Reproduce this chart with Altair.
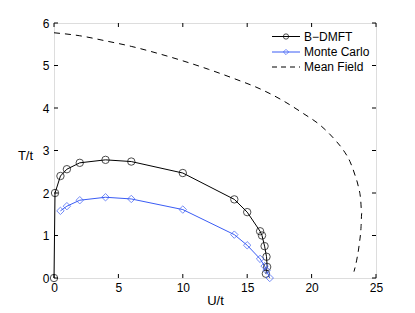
import altair as alt
import pandas as pd

# B-DMFT
bd_u = [0.0, 0.08, 0.5, 1.0, 2.0, 4.0, 6.0, 10.0, 14.0, 15.0, 16.0, 16.15, 16.35, 16.5, 16.55, 16.45]
bd_t = [0.0, 2.0, 2.4, 2.56, 2.71, 2.78, 2.74, 2.47, 1.85, 1.55, 1.1, 1.0, 0.75, 0.5, 0.26, 0.1]
# Monte Carlo
mc_u = [0.5, 1.0, 2.0, 4.0, 6.0, 10.0, 14.0, 15.0, 16.0, 16.35, 16.5, 16.75]
mc_t = [1.58, 1.69, 1.83, 1.9, 1.86, 1.61, 1.02, 0.77, 0.45, 0.28, 0.18, 0.0]
# Mean field
mf_u = [0.0, 2.0, 4.0, 6.0, 8.0, 10.0, 12.0, 14.0, 16.0, 17.68, 19.36, 20.65, 21.82, 22.46,
        22.98, 23.37, 23.63, 23.81, 23.89, 23.84, 23.71, 23.5, 23.29]
mf_t = [5.77, 5.7, 5.58, 5.45, 5.29, 5.11, 4.91, 4.69, 4.45, 4.19, 3.87, 3.6, 3.25, 3.01,
        2.74, 2.42, 2.15, 1.84, 1.52, 1.21, 0.82, 0.42, 0.15]

x_ticks = [0, 5, 10, 15, 20, 25]
y_ticks = [0, 1, 2, 3, 4, 5, 6]

legend_labels = ["B\u2212DMFT", "Monte Carlo", "Mean Field"]
blue = "#3a5cf5"

W, H = 322, 255
FONT = "Liberation Sans"

bd = pd.DataFrame({"U": bd_u, "T": bd_t, "o": range(len(bd_u))})
mc = pd.DataFrame({"U": mc_u, "T": mc_t, "o": range(len(mc_u))})
mf = pd.DataFrame({"U": mf_u, "T": mf_t, "o": range(len(mf_u))})

xs = alt.Scale(domain=[0, 25], nice=False, zero=False)
ys = alt.Scale(domain=[0, 6], nice=False, zero=False)

xax = alt.Axis(values=x_ticks, ticks=False, grid=False, domain=False, labelPadding=4,
               labelFontSize=12, labelFont=FONT, labelColor="black", title="U/t",
               titleFont=FONT, titleFontSize=13, titleFontWeight="normal", titlePadding=1,
               titleColor="black", labelFlush=False)
yax = alt.Axis(values=y_ticks, ticks=False, grid=False, domain=False, labelPadding=5,
               labelFontSize=12, labelFont=FONT, labelColor="black", title="T/t",
               titleFont=FONT, titleFontSize=13, titleFontWeight="normal", titleAngle=0,
               titleAlign="center", titleBaseline="middle", titleX=-29, titleY=132,
               titleColor="black", labelFlush=False)

def X(**kw):
    return alt.X("U:Q", scale=xs, **kw)

def Y(**kw):
    return alt.Y("T:Q", scale=ys, **kw)

mf_line = alt.Chart(mf).mark_line(color="black", strokeWidth=1, strokeDash=[6, 5],
                                  interpolate="monotone").encode(
    x=X(axis=xax), y=Y(axis=yax), order="o:Q")

bd_line = alt.Chart(bd).mark_line(color="black", strokeWidth=1).encode(
    x=X(), y=Y(), order="o:Q")
bd_pts = alt.Chart(bd).mark_point(shape="circle", color="black", filled=False, size=55, strokeWidth=1).encode(
    x=X(), y=Y())

mc_line = alt.Chart(mc).mark_line(color=blue, strokeWidth=1).encode(
    x=X(), y=Y(), order="o:Q")
mc_pts = alt.Chart(mc).mark_point(shape="diamond", color=blue, filled=False, size=55, strokeWidth=1).encode(
    x=X(), y=Y())

# inward ticks on all four sides
xt = pd.DataFrame({"v": x_ticks})
yt = pd.DataFrame({"v": y_ticks})
tick_len = 4
xt_b = alt.Chart(xt).mark_rule(color="black", strokeWidth=1).encode(
    x=alt.X("v:Q", scale=xs), y=alt.value(H), y2=alt.value(H - tick_len))
xt_t = alt.Chart(xt).mark_rule(color="black", strokeWidth=1).encode(
    x=alt.X("v:Q", scale=xs), y=alt.value(0), y2=alt.value(tick_len))
yt_l = alt.Chart(yt).mark_rule(color="black", strokeWidth=1).encode(
    y=alt.Y("v:Q", scale=ys), x=alt.value(0), x2=alt.value(tick_len))
yt_r = alt.Chart(yt).mark_rule(color="black", strokeWidth=1).encode(
    y=alt.Y("v:Q", scale=ys), x=alt.value(W), x2=alt.value(W - tick_len))

# legend (decoration)
leg_layers = []
leg_y = [13.5, 29, 44]
lx0, lx1, ltx = 218, 246, 250
styles = [("black", "circle", None), (blue, "diamond", None), ("black", None, [6, 5])]
for lab, yy, (col, shp, dash) in zip(legend_labels, leg_y, styles):
    rk = dict(color=col, strokeWidth=1)
    if dash:
        rk["strokeDash"] = [5, 4]
    leg_layers.append(alt.Chart(pd.DataFrame({"a": [0]})).mark_rule(**rk).encode(
        x=alt.value(lx0), x2=alt.value(lx1), y=alt.value(yy)))
    if shp:
        leg_layers.append(alt.Chart(pd.DataFrame({"a": [0]})).mark_point(
            shape=shp, color=col, filled=False, size=28, strokeWidth=1).encode(
            x=alt.value((lx0 + lx1) / 2), y=alt.value(yy)))
    leg_layers.append(alt.Chart(pd.DataFrame({"a": [0]})).mark_text(
        text=lab, align="left", baseline="middle", font=FONT, fontSize=12, color="black").encode(
        x=alt.value(ltx), y=alt.value(yy)))

chart = alt.layer(
    mf_line, bd_line, mc_line, bd_pts, mc_pts, xt_b, xt_t, yt_l, yt_r, *leg_layers
).properties(
    width=W, height=H,
    autosize=alt.AutoSizeParams(type="none"),
    padding={"left": 46, "top": 15, "right": 30, "bottom": 32},
).configure_view(stroke="black", strokeWidth=1).configure(background="white")

chart.save("out.html", embed_options={"renderer": "svg", "actions": False})
